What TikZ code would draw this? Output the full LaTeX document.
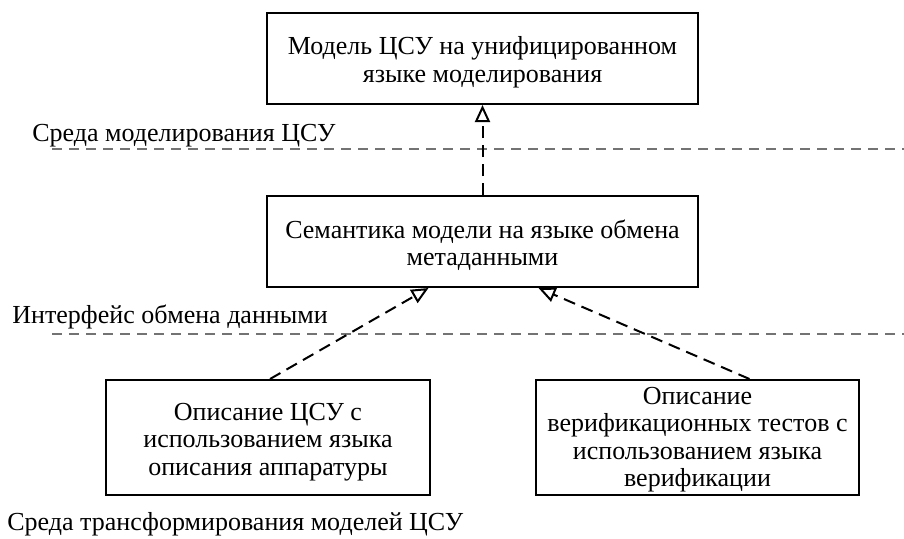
\documentclass[tikz,border=0pt]{standalone}
\usepackage{fontspec}
\setmainfont{Liberation Serif}
\usetikzlibrary{arrows.meta,positioning}

\newcommand{\boxstrut}[1][13pt]{\rule{0pt}{#1}}

\tikzstyle{modelbox} = [draw=black, fill=white, line width=1pt,
    rectangle, align=center, inner xsep=4pt, inner ysep=0pt,
    font=\fontsize{13}{13.75}\selectfont]
\tikzstyle{layerlabel} = [anchor=base west, inner sep=0pt,
    font=\fontsize{13}{13.75}\selectfont]
\tikzstyle{layerline} = [draw=black!55, line width=1pt,
    dash pattern=on 5pt off 3.5pt]
\tikzstyle{realize} = [draw=black, line width=1pt,
    dash pattern=on 6pt off 3.5pt,
    -{Triangle[open, length=8.5pt, width=7.5pt]}]

\begin{document}
\begin{tikzpicture}[x=0.5pt, y=-0.5pt]
\useasboundingbox (0,0) rectangle (904,538);

% layers
\node [layerlabel] (envmodel) at (32,141) {Среда моделирования ЦСУ};
\coordinate (envmodelL) at (52,149);
\coordinate (envmodelR) at (904,149);
\draw [layerline] (envmodelL) -- (envmodelR);

\node [layerlabel] (exchange) at (12,323) {Интерфейс обмена данными};
\coordinate (exchangeL) at (52,334);
\coordinate (exchangeR) at (904,334);
\draw [layerline] (exchangeL) -- (exchangeR);

\node [layerlabel] (envtrans) at (7,530) {Среда трансформирования моделей ЦСУ};

% models
\node [modelbox, minimum width=215.5pt, minimum height=45.5pt] (uml) at (482.5,58.5)
    {\boxstrut Модель ЦСУ на унифицированном\\языке моделирования};
\node [modelbox, minimum width=215.5pt, minimum height=45.5pt] (xmi) at (482.5,241.5)
    {\boxstrut Семантика модели на языке обмена\\метаданными};
\node [modelbox, minimum width=162pt, minimum height=57.5pt] (hdl) at (268,437.5)
    {\boxstrut Описание ЦСУ с\\использованием языка\\описания аппаратуры};
\node [modelbox, minimum width=161.5pt, minimum height=57.5pt] (hvl) at (697.5,437.5)
    {\boxstrut[10.5pt]Описание\\верификационных тестов с\\использованием языка\\верификации};

% links
\draw [realize] (xmi.north) -- (uml.south);
\draw [realize] ([xshift=1pt]hdl.north) -- ([xshift=-27pt]xmi.south);
\draw [realize] ([xshift=26pt]hvl.north) -- ([xshift=28pt]xmi.south);
\end{tikzpicture}
\end{document}
